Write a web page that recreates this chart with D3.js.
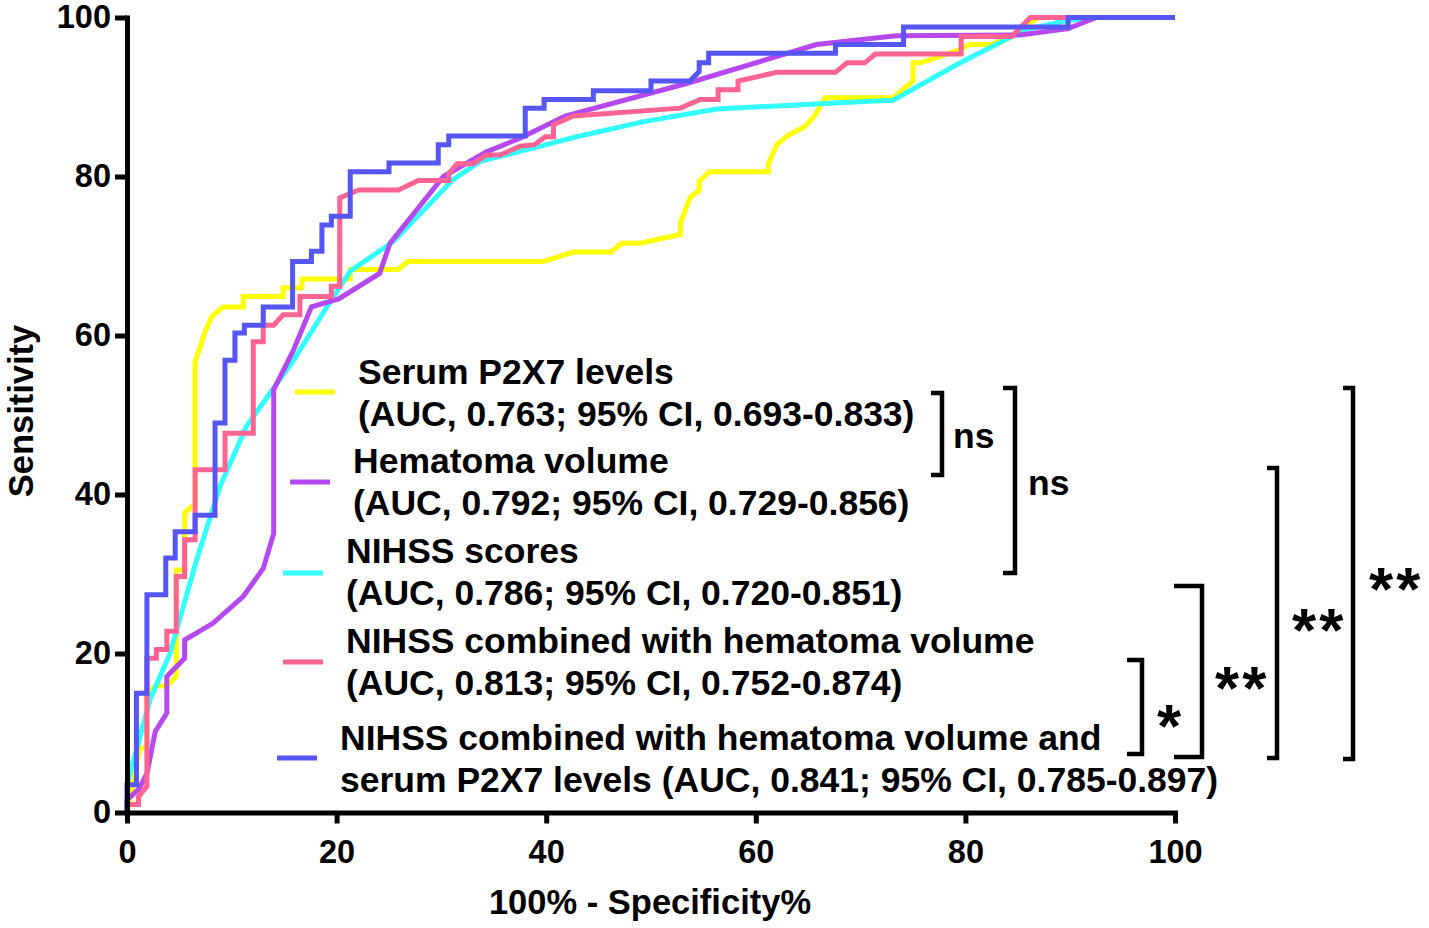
<!DOCTYPE html>
<html lang="en">
<head>
    <title>ROC curves</title>
    <meta charset="utf-8"/>
    <script src="https://d3js.org/d3.v7.min.js"></script>
    <style>
        body { margin: 0; background: #fff; }
        text { font-family: "Liberation Sans", Arial, sans-serif; font-weight: bold; fill: #000; }
        .axis path, .axis line { stroke: #000; stroke-width: 5; }
        .axis text { font-size: 32.5px; }
    </style>
</head>
<body>

<svg width="1429" height="928"></svg>

<script type="text/javascript">

    // tick values for both axes
    const xTicks = [0, 20, 40, 60, 80, 100];
    const yTicks = [0, 20, 40, 60, 80, 100];

    // series names (legend order)
    const seriesNames = [
        ["Serum P2X7 levels", "(AUC, 0.763; 95% CI, 0.693-0.833)"],
        ["Hematoma volume", "(AUC, 0.792; 95% CI, 0.729-0.856)"],
        ["NIHSS scores", "(AUC, 0.786; 95% CI, 0.720-0.851)"],
        ["NIHSS combined with hematoma volume", "(AUC, 0.813; 95% CI, 0.752-0.874)"],
        ["NIHSS combined with hematoma volume and", "serum P2X7 levels (AUC, 0.841; 95% CI, 0.785-0.897)"]
    ];
    const seriesColors = ["#ffff00", "#b548ee", "#33ffff", "#fd6494", "#5656f5"];

    // ROC points: [100% - specificity, sensitivity]
    const p2x7 = [[0, 0], [0.5, 3], [1.2, 8.1], [1.9, 8.1], [1.9, 14.8], [2.7, 15.9], [3.8, 15.9], [4.7, 17.1],
        [4.7, 30.5], [5.5, 30.5], [5.5, 37.7], [6.2, 38.5], [6.5, 38.5], [6.5, 56.7], [7.1, 59.0], [7.4, 60.3],
        [8.1, 62.4], [9.2, 63.6], [11.1, 63.6], [11.1, 64.9], [14.9, 64.9], [14.9, 66.0], [16.7, 66.0], [16.7, 67.1],
        [21.3, 67.1], [21.3, 68.3], [25.9, 68.3], [26.8, 69.3], [39.7, 69.3], [42.6, 70.5], [46.2, 70.5], [47.2, 71.6],
        [49.0, 71.6], [52.8, 72.7], [52.8, 74.1], [53.7, 77.3], [54.6, 78.3], [54.6, 79.4], [55.6, 80.6], [61.2, 80.6],
        [61.2, 81.6], [62.0, 84.0], [63.1, 85.2], [64.7, 86.3], [65.6, 87.6], [66.6, 89.9], [73.1, 89.9], [75.0, 92.0],
        [75.0, 94.3], [75.7, 94.3], [77.6, 95.1], [79.5, 96.0], [80.4, 96.6], [82.5, 96.6], [85.4, 98.3], [86.5, 99.6],
        [87.0, 100], [100, 100]];

    const hematoma = [[0, 0], [0, 1.6], [1.1, 2.9], [1.9, 4.9], [2.7, 10.2], [3.8, 12.5], [3.8, 17.1], [5.5, 19.4],
        [5.5, 21.7], [8.2, 23.8], [11.1, 27.2], [13.0, 30.7], [14.0, 35.1], [14.0, 53.2], [15.9, 58.2], [17.6, 63.6],
        [20.2, 64.6], [24.1, 67.8], [25.1, 71.6], [30.2, 80.0], [34.3, 83.1], [37.5, 84.8], [41.8, 87.6], [53.4, 91.7],
        [65.8, 96.6], [69.9, 97.2], [73.4, 97.7], [85.2, 97.8], [89.8, 98.6], [92.5, 100], [100, 100]];

    const nihss = [[0, 0], [0, 3.5], [2.2, 14.2], [4.1, 20.0], [6.65, 31.8], [8.87, 41.0], [11.4, 48.6], [15.9, 56.9],
        [19.7, 64.9], [21.3, 68.1], [25.4, 71.8], [31.1, 79.6], [33.7, 81.9], [38.8, 83.6], [42.9, 85.0], [49.3, 86.9],
        [56.3, 88.5], [69.9, 89.4], [73.1, 89.6], [79.5, 94.3], [85.8, 98.5], [89.7, 99.6], [92.0, 100], [100, 100]];

    const nihssHematoma = [[0, 0], [0, 1.0], [1.1, 1.0], [1.1, 2.0], [1.9, 3.3], [1.9, 19.4], [2.8, 19.4], [2.8, 20.5],
        [3.8, 20.5], [3.8, 22.8], [4.7, 22.8], [4.7, 29.7], [5.5, 29.7], [5.5, 34.3], [6.5, 34.3], [6.5, 43.1],
        [9.35, 43.1], [9.35, 47.7], [12.05, 47.7], [12.05, 59.2], [13.0, 59.2], [13.0, 61.3], [14.0, 61.3], [14.9, 62.6],
        [16.5, 62.6], [16.5, 64.9], [19.5, 64.9], [19.5, 66.2], [20.3, 66.2], [20.3, 77.3], [22.1, 78.3], [25.9, 78.3],
        [27.8, 79.5], [30.7, 79.5], [30.7, 80.4], [31.5, 81.6], [33.0, 81.6], [34.3, 82.7], [35.6, 82.7], [37.5, 83.8],
        [38.9, 84.0], [39.9, 85.0], [40.7, 85.0], [40.7, 86.5], [42.6, 87.6], [52.8, 88.6], [54.7, 89.7], [56.4, 89.7],
        [56.4, 90.9], [58.3, 90.9], [58.3, 92.0], [62.0, 93.1], [67.6, 93.1], [68.7, 94.3], [70.4, 94.3], [71.4, 95.4],
        [79.6, 95.4], [79.6, 97.6], [84.4, 97.6], [86.2, 100], [100, 100]];

    const combined = [[0, 0], [0, 3.5], [0.9, 3.5], [0.9, 15.0], [1.9, 15.0], [1.9, 27.4], [3.7, 27.4], [3.7, 32.0],
        [4.6, 32.0], [4.6, 35.3], [6.5, 35.3], [6.5, 37.4], [8.4, 37.4], [8.4, 49.0], [9.35, 49.0], [9.35, 56.9],
        [10.3, 56.9], [10.3, 60.3], [11.2, 60.3], [11.2, 61.3], [13.0, 61.3], [13.0, 63.6], [15.8, 63.6], [15.8, 69.3],
        [17.6, 69.3], [17.6, 70.6], [18.6, 70.6], [18.6, 73.9], [19.5, 73.9], [19.5, 75.0], [21.3, 75.0], [21.3, 80.6],
        [25.0, 80.6], [25.0, 81.7], [29.7, 81.7], [29.7, 84.0], [30.7, 84.0], [30.7, 85.1], [38.0, 85.1], [38.0, 88.6],
        [39.8, 88.6], [39.8, 89.7], [44.5, 89.7], [44.5, 90.8], [50.0, 90.8], [50.0, 92.0], [53.7, 92.0], [54.6, 93.2],
        [54.6, 94.3], [55.5, 94.3], [55.5, 95.5], [67.6, 95.5], [67.6, 96.6], [74.1, 96.6], [74.1, 98.8], [89.8, 98.8],
        [89.8, 100], [100, 100]];

    // comparisons shown with brackets on the right
    const sigLabels = ["ns", "ns", "*", "**", "**", "**"];

    const svg = d3.select("svg");

    // escalas
    const x = d3.scaleLinear().domain([0, 100]).range([127, 1175]);
    const y = d3.scaleLinear().domain([0, 100]).range([812.5, 17.5]);

    // curvas (amarilla abajo, azul arriba)
    const line = d3.line().x(d => x(d[0])).y(d => y(d[1]));
    const allSeries = [p2x7, nihss, hematoma, nihssHematoma, combined];
    const drawColors = [seriesColors[0], seriesColors[2], seriesColors[1], seriesColors[3], seriesColors[4]];

    svg.append("g")
        .selectAll("path")
        .data(allSeries)
        .join("path")
        .attr("d", line)
        .attr("fill", "none")
        .attr("stroke", (d, i) => drawColors[i])
        .attr("stroke-width", 5)
        .attr("stroke-linejoin", "miter");

    // ejes
    svg.append("g")
        .attr("class", "axis")
        .attr("transform", "translate(0," + y(0) + ")")
        .call(d3.axisBottom(x).tickValues(xTicks).tickSize(11).tickSizeOuter(0).tickPadding(16))
        .call(g => g.selectAll("text").attr("font-size", null));

    svg.append("g")
        .attr("class", "axis")
        .attr("transform", "translate(" + x(0) + ",0)")
        .call(d3.axisLeft(y).tickValues(yTicks).tickSize(12).tickSizeOuter(0).tickPadding(4))
        .call(g => g.selectAll("text").attr("font-size", null));

    svg.selectAll(".axis .domain").attr("stroke-linecap", "square");

    // titulos de ejes
    svg.append("text")
        .attr("x", 650).attr("y", 914)
        .attr("text-anchor", "middle")
        .attr("font-size", 34.5)
        .text("100% - Specificity%");

    svg.append("text")
        .attr("transform", "translate(33,411) rotate(-90)")
        .attr("text-anchor", "middle")
        .attr("font-size", 34.5)
        .text("Sensitivity");

    // leyenda
    const legendPos = [
        {sx: 295, tx: 358, sy: 392, ty: 384},
        {sx: 290, tx: 353, sy: 482, ty: 473},
        {sx: 283, tx: 346, sy: 573, ty: 563},
        {sx: 283, tx: 346, sy: 662, ty: 653},
        {sx: 277, tx: 340, sy: 758, ty: 750}
    ];
    const legend = svg.append("g");
    seriesNames.forEach(function (lines, i) {
        const p = legendPos[i];
        legend.append("line")
            .attr("x1", p.sx).attr("x2", p.sx + 40)
            .attr("y1", p.sy).attr("y2", p.sy)
            .attr("stroke", seriesColors[i])
            .attr("stroke-width", 5);
        lines.forEach(function (t, j) {
            legend.append("text")
                .attr("x", p.tx).attr("y", p.ty + j * 42)
                .attr("font-size", 35.5)
                .text(t);
        });
    });

    // corchetes de significancia
    const brackets = [
        {x: 942, y1: 393, y2: 475, arm: 11, lx: 953, ly: 448, big: false},
        {x: 1015, y1: 388, y2: 573, arm: 12, lx: 1028, ly: 495, big: false},
        {x: 1142, y1: 660, y2: 754, arm: 15, lx: 1157, ly: 713, big: true},
        {x: 1202, y1: 586, y2: 757, arm: 28, lx: 1215, ly: 675, big: true},
        {x: 1277, y1: 468, y2: 758, arm: 10, lx: 1292, ly: 617, big: true},
        {x: 1353, y1: 388, y2: 759, arm: 10, lx: 1369, ly: 576, big: true}
    ];
    const bg = svg.append("g");
    brackets.forEach(function (b, i) {
        bg.append("path")
            .attr("d", "M" + (b.x - b.arm) + "," + b.y1 + "H" + b.x + "V" + b.y2 + "H" + (b.x - b.arm))
            .attr("fill", "none")
            .attr("stroke", "#000")
            .attr("stroke-width", 4.5);
        bg.append("text")
            .attr("x", b.lx)
            .attr("y", b.big ? b.ly + 34 : b.ly)
            .attr("font-size", b.big ? 62 : 35.5)
            .attr("letter-spacing", b.big ? 3 : 0)
            .text(sigLabels[i]);
    });

</script>
</body>
</html>
